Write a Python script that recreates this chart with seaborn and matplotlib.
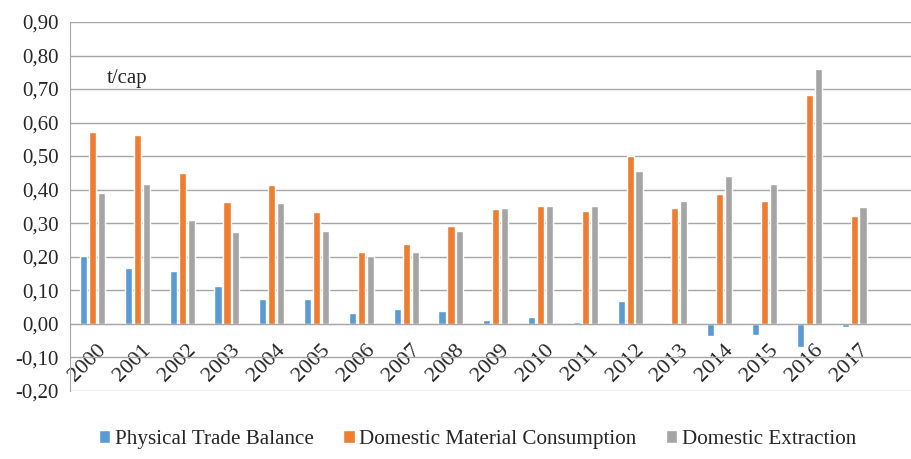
import numpy as np
import pandas as pd
import seaborn as sns
import matplotlib.pyplot as plt
import matplotlib.transforms as mtrans
from matplotlib.ticker import FuncFormatter, MultipleLocator

# data (t/cap)
years = [str(y) for y in range(2000, 2018)]
trade_balance = [0.203, 0.165, 0.157, 0.111, 0.073, 0.073, 0.032, 0.043, 0.036,
                 0.012, 0.019, 0.004, 0.066, 0.0, -0.038, -0.034, -0.069, -0.011]
dmc = [0.573, 0.563, 0.448, 0.363, 0.413, 0.334, 0.214, 0.237, 0.291,
       0.341, 0.352, 0.337, 0.501, 0.345, 0.386, 0.367, 0.681, 0.322]
extraction = [0.391, 0.417, 0.310, 0.272, 0.360, 0.276, 0.202, 0.214, 0.276,
              0.345, 0.352, 0.352, 0.455, 0.367, 0.440, 0.417, 0.761, 0.349]
series = ["Physical Trade Balance", "Domestic Material Consumption", "Domestic Extraction"]
colors = ["#5B9BD5", "#ED7D31", "#A5A5A5"]

df = pd.DataFrame({
    "year": years * 3,
    "value": trade_balance + dmc + extraction,
    "series": np.repeat(series, len(years)),
})

sns.set_style("white")
plt.rcParams["font.family"] = ["Liberation Serif", "DejaVu Serif"]

fig = plt.figure(figsize=(9.11, 4.59), dpi=100)
ax = fig.add_axes([0.077, 0.148, 0.923, 0.804])

sns.barplot(data=df, x="year", y="value", hue="series", palette=colors,
            width=0.6, gap=0.2, saturation=1, ax=ax)

ax.set_xlim(-0.5, 18.27)
ax.set_ylim(-0.2015, 0.9)
ax.yaxis.set_major_locator(MultipleLocator(0.1))
ax.yaxis.set_major_formatter(FuncFormatter(lambda v, p: f"{v:.2f}".replace(".", ",")))
ax.grid(axis="y", color="#A6A6A6", linewidth=1)
ax.set_axisbelow(True)

for s in ["top", "right"]:
    ax.spines[s].set_visible(False)
ax.spines["left"].set_color("#A6A6A6")
ax.spines["bottom"].set_color("#A6A6A6")
ax.spines["bottom"].set_position(("data", 0))

ax.tick_params(axis="y", length=6, color="#A6A6A6", labelsize=15, pad=2)
ax.tick_params(axis="x", length=0, labelsize=16, pad=12)
shift = mtrans.ScaledTranslation(4 / 100, 0, fig.dpi_scale_trans)
for lab in ax.get_xticklabels():
    lab.set_rotation(45)
    lab.set_ha("right")
    lab.set_va("top")
    lab.set_rotation_mode("anchor")
    lab.set_transform(lab.get_transform() + shift)
ax.set_xlabel("")
ax.set_ylabel("")

ax.text(0.044, 0.848, "t/cap", transform=ax.transAxes, fontsize=15, va="center")

handles, labels = ax.get_legend_handles_labels()
ax.get_legend().remove()
fig.legend(handles, labels, loc="lower center", bbox_to_anchor=(0.524, -0.02),
           ncol=3, frameon=False, fontsize=15.2, handlelength=0.55, handleheight=0.55,
           handletextpad=0.2, columnspacing=1.4)

fig.savefig("out.png", dpi=100)
